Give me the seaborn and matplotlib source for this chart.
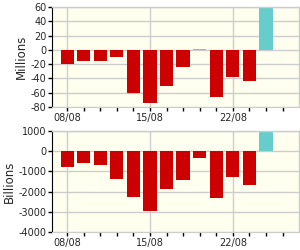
import matplotlib
matplotlib.use("Agg")
import matplotlib.pyplot as plt
import seaborn as sns
import pandas as pd
import numpy as np

dates = ["08/08", "11/08", "12/08", "13/08", "14/08", "15/08", "18/08", "19/08",
         "20/08", "21/08", "22/08", "25/08", "26/08"]
tick_labels = ["08/08", "15/08", "22/08"]
millions = [-20, -16, -16, -10, -61, -75, -51, -24, 1.5, -66, -38, -44, 60]
billions = [-770, -580, -660, -1400, -2290, -2950, -1890, -1450, -360, -2340, -1300, -1650, 1000]

sns.set_style("white")
plt.rcParams['font.family'] = ['DejaVu Sans']

RED = "#CC0000"
CYAN = "#66CCCC"
BG = "#FFFFF0"
GRID = "#CCCCCC"

fig = plt.figure(figsize=(3.0, 2.5), dpi=100)
ax1 = fig.add_axes([0.173, 0.572, 0.824, 0.400])
ax2 = fig.add_axes([0.173, 0.072, 0.824, 0.404])

def draw(ax, vals, ylim, yticks, ylabel):
    df = pd.DataFrame({"date": dates, "val": vals,
                       "sign": ["pos" if v >= 0 else "neg" for v in vals]})
    sns.barplot(data=df, x="date", y="val", hue="sign", order=dates,
                palette={"pos": CYAN, "neg": RED}, dodge=False, legend=False,
                width=0.8, ax=ax, saturation=1, edgecolor="none", linewidth=0)
    ax.set_facecolor(BG)
    ax.set_xlim(-0.92, 14.0)
    ax.set_ylim(*ylim)
    ax.set_yticks(yticks)
    ax.set_yticklabels([str(t) for t in yticks])
    major = [dates.index(t) for t in tick_labels]
    ax.set_xticks(major)
    ax.set_xticklabels(tick_labels)
    ax.set_xticks([i for i in range(14) if i not in major], minor=True)
    ax.grid(True, which="major", color=GRID, linewidth=1)
    ax.set_axisbelow(True)
    ax.tick_params(axis="both", which="both", direction="out", length=3,
                   width=1, color="black", labelsize=7, pad=1,
                   bottom=True, left=True)
    ax.set_xlabel("")
    ax.set_ylabel(ylabel, fontsize=8.5, labelpad=2)
    for s in ["top", "right"]:
        ax.spines[s].set_color(GRID)
        ax.spines[s].set_linewidth(1)
    ax.spines["left"].set_color("black")
    ax.spines["bottom"].set_color(GRID)
    for s in ax.spines.values():
        s.set_visible(True)

draw(ax1, millions, (-80, 60), list(range(60, -81, -20)), "Millions")
draw(ax2, billions, (-4000, 1000), list(range(1000, -4001, -1000)), "Billions")

fig.savefig("out.png", dpi=100, facecolor="white")
